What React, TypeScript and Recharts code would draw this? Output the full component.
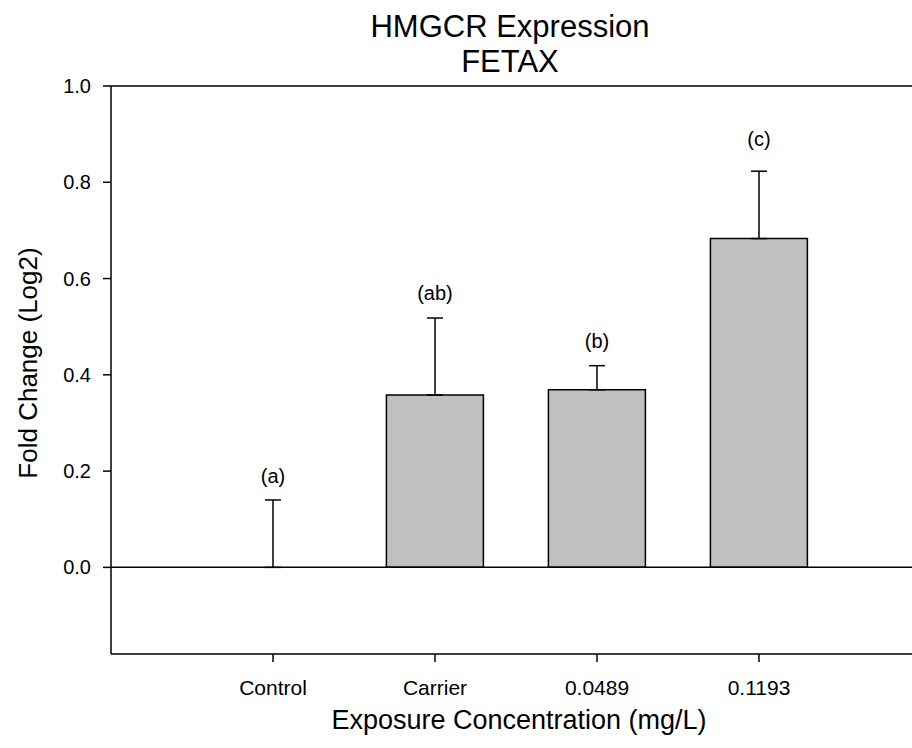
import React from "react";
import {ComposedChart, Bar, ErrorBar, Scatter, XAxis, YAxis, ReferenceLine} from "recharts";

// values
const categories = ["Control", "Carrier", "0.0489", "0.1193"];
const foldChange = [0, 0.358, 0.369, 0.683];
const upperError = [0.14, 0.16, 0.05, 0.14];
const groupLetters = ["(a)", "(ab)", "(b)", "(c)"];
const letterHeights = [0.19, 0.57, 0.47, 0.89];
const yTicks = [0, 0.2, 0.4, 0.6, 0.8, 1.0];

const FONT = "'Liberation Sans', Arial, Helvetica, sans-serif";

const data = categories.map((name, i) => ({
    name,
    value: foldChange[i],
    err: [0, upperError[i]],
    letterY: letterHeights[i],
    letter: groupLetters[i],
}));

const renderLetter = (props: any) => {
    const {cx, cy, payload} = props;
    return (
        <text x={cx} y={cy} textAnchor="middle" dominantBaseline="central"
              fontSize={20} fontFamily={FONT} fill="#000">
            {payload.letter}
        </text>
    );
};

// the error bars hang off an invisible point series so the zero-height bar keeps its whisker
const noMarker = () => <g/>;

const App = () => {
    return (
        <div style={{position: "absolute", left: 0, top: 0, width: 912, height: 748, overflow: "hidden", background: "#fff"}}>
            <ComposedChart
                width={921}
                height={748}
                data={data}
                margin={{top: 86, right: 0, bottom: 0, left: 0}}
                barCategoryGap="20%"
            >
                <XAxis
                    dataKey="name"
                    type="category"
                    interval={0}
                    padding={{left: 81, right: 81}}
                    height={94}
                    tickSize={8}
                    tickMargin={18}
                    tick={{fill: "#000", fontSize: 21, fontFamily: FONT}}
                    axisLine={{stroke: "#000", strokeWidth: 1.5}}
                    tickLine={{stroke: "#000", strokeWidth: 1.5}}
                />
                <YAxis
                    type="number"
                    domain={[-0.18, 1]}
                    ticks={yTicks}
                    allowDataOverflow
                    tickFormatter={(v: number) => v.toFixed(1)}
                    width={111}
                    tickSize={8}
                    tickMargin={12}
                    tick={{fill: "#000", fontSize: 20, fontFamily: FONT}}
                    axisLine={{stroke: "#000", strokeWidth: 1.5}}
                    tickLine={{stroke: "#000", strokeWidth: 1.5}}
                />
                <ReferenceLine y={1} stroke="#000" strokeWidth={1.5}/>
                <Bar dataKey="value" fill="#c0c0c0" stroke="#000" strokeWidth={1.5} isAnimationActive={false}/>
                <Scatter dataKey="value" shape={noMarker} isAnimationActive={false}>
                    <ErrorBar dataKey="err" direction="y" width={8} stroke="#000" strokeWidth={1.5}/>
                </Scatter>
                <ReferenceLine y={0} stroke="#000" strokeWidth={1.5}/>
                <Scatter dataKey="letterY" shape={renderLetter} isAnimationActive={false}/>
            </ComposedChart>
            <svg width={912} height={748} style={{position: "absolute", left: 0, top: 0, pointerEvents: "none"}}>
                <text x={510} y={37} textAnchor="middle" fontSize={31} fontFamily={FONT} fill="#000">HMGCR Expression</text>
                <text x={510} y={72} textAnchor="middle" fontSize={31} fontFamily={FONT} fill="#000">FETAX</text>
                <text x={519} y={729} textAnchor="middle" fontSize={27} fontFamily={FONT} fill="#000">Exposure Concentration (mg/L)</text>
                <text transform="translate(37,363) rotate(-90)" textAnchor="middle" fontSize={26} fontFamily={FONT} fill="#000">Fold Change (Log2)</text>
            </svg>
        </div>
    );
};

export default App;
